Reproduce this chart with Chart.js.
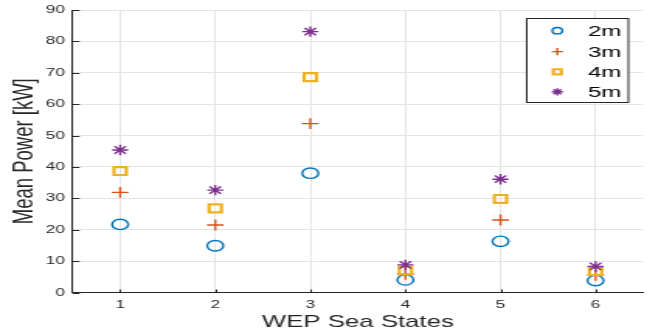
<!DOCTYPE html>
<html>
<head>
<meta charset="utf-8">
<script src="https://cdn.jsdelivr.net/npm/chart.js@4/dist/chart.umd.min.js"></script>
<style>
  html, body { margin: 0; padding: 0; background: #ffffff; overflow: hidden; }
  #stage { width: 417px; height: 334px; transform: scaleX(1.55156); transform-origin: 0 0; }
  #c { display: block; }
</style>
</head>
<body>
<div id="stage"><canvas id="c" width="417" height="334"></canvas></div>
<script>
// Sea states on the x axis
const seaStates = ['1', '2', '3', '4', '5', '6'];
// Mean power [kW] per sea state, one list per device size
const power2m = [21.7, 14.9, 38.0, 4.0, 16.3, 3.8];
const power3m = [31.9, 21.5, 53.8, 5.8, 23.1, 5.5];
const power4m = [38.7, 26.8, 68.6, 7.0, 29.8, 6.8];
const power5m = [45.4, 32.6, 83.1, 8.8, 36.1, 8.3];
const seriesNames = ['2m', '3m', '4m', '5m'];
const yTicks = [0, 10, 20, 30, 40, 50, 60, 70, 80, 90];

const AXIS = '#262626';
const GRID = '#e4e4e4';
const FONT = "'Liberation Sans', Arial, Helvetica, sans-serif";

const styles = [
  { color: '#0072BD', pointStyle: 'circle', radius: 5.2, width: 1.4, legendRadius: 3.2 },
  { color: '#D95319', pointStyle: 'cross',  radius: 5.4, width: 1.4, legendRadius: 3.6 },
  { color: '#EDB120', pointStyle: 'rect',   radius: 5.6, width: 2.2, legendRadius: 3.6 },
  { color: '#7E2F8E', pointStyle: 'star',   radius: 5.2, width: 1.4, legendRadius: 3.6 }
];
const values = [power2m, power3m, power4m, power5m];

const datasets = values.map((v, i) => ({
  label: seriesNames[i],
  data: v,
  showLine: false,
  pointStyle: styles[i].pointStyle,
  pointRadius: styles[i].radius,
  pointHoverRadius: styles[i].radius,
  pointBorderWidth: styles[i].width,
  pointBorderColor: styles[i].color,
  pointBackgroundColor: 'rgba(0,0,0,0)',
  borderColor: styles[i].color,
  backgroundColor: 'rgba(0,0,0,0)',
  order: values.length - 1 - i
}));

// Inward tick marks on both axes plus the boxed legend in the upper right
const axesExtras = {
  id: 'axesExtras',
  afterDraw(chart) {
    const ctx = chart.ctx;
    const x = chart.scales.x, y = chart.scales.y;
    const area = chart.chartArea;
    ctx.save();
    ctx.strokeStyle = AXIS;
    ctx.lineWidth = 1;
    ctx.beginPath();
    y.ticks.forEach(t => {
      const py = Math.round(y.getPixelForValue(t.value)) + 0.5;
      ctx.moveTo(area.left, py);
      ctx.lineTo(area.left + 4.5, py);
    });
    x.ticks.forEach((t, i) => {
      const px = Math.round(x.getPixelForTick(i)) + 0.5;
      ctx.moveTo(px, area.bottom);
      ctx.lineTo(px, area.bottom - 3);
    });
    ctx.stroke();

    // legend box
    const bx = 339.5, by = 18.5, bw = 65.5, bh = 84;
    ctx.fillStyle = '#ffffff';
    ctx.fillRect(bx, by, bw, bh);
    ctx.strokeStyle = AXIS;
    ctx.lineWidth = 1;
    ctx.strokeRect(bx, by, bw, bh);
    const rows = [30.7, 51.6, 71.8, 91.8];
    ctx.font = '15.5px ' + FONT;
    ctx.textBaseline = 'middle';
    ctx.textAlign = 'left';
    chart.data.datasets.forEach((ds, i) => {
      const s = styles[i];
      ctx.strokeStyle = s.color;
      ctx.fillStyle = 'rgba(0,0,0,0)';
      ctx.lineWidth = s.width;
      Chart.helpers.drawPoint(ctx, {
        pointStyle: s.pointStyle, radius: s.legendRadius, rotation: 0, borderWidth: s.width
      }, 359.2, rows[i]);
      ctx.fillStyle = '#000000';
      ctx.fillText(ds.label, 379, rows[i] + 1);
    });
    ctx.restore();
  }
};

new Chart(document.getElementById('c'), {
  type: 'line',
  data: { labels: seaStates, datasets },
  options: {
    responsive: false,
    devicePixelRatio: 1,
    animation: false,
    events: [],
    layout: { autoPadding: false, padding: { left: 4.9, right: 2.5, top: 10, bottom: 0 } },
    plugins: { legend: { display: false }, tooltip: { enabled: false } },
    scales: {
      x: {
        type: 'category',
        offset: true,
        grid: { offset: false, color: GRID, lineWidth: 1, drawTicks: false },
        border: { color: AXIS, width: 1 },
        ticks: { color: AXIS, font: { family: FONT, size: 11 }, padding: 6, maxRotation: 0 },
        title: { display: true, text: 'WEP Sea States', color: AXIS, font: { family: FONT, size: 16.6 }, padding: { top: 0, bottom: 1.2 } },
        afterFit(scale) {
          scale.height = 41.5;
          scale.paddingLeft = 0;
          scale.paddingRight = 0;
        }
      },
      y: {
        min: 0,
        max: 90,
        afterBuildTicks(scale) { scale.ticks = yTicks.map(v => ({ value: v })); },
        grid: { color: GRID, lineWidth: 1, drawTicks: false },
        border: { color: AXIS, width: 1 },
        ticks: { color: AXIS, font: { family: FONT, size: 11 }, padding: 5 },
        title: { display: true, text: 'Mean Power [kW]', color: AXIS, font: { family: FONT, size: 18.5 }, padding: { top: 0, bottom: 0 } },
        afterFit(scale) {
          scale.width = 41.9;
          scale.paddingTop = 0;
          scale.paddingBottom = 0;
        }
      }
    }
  },
  plugins: [axesExtras]
});
</script>
</body>
</html>
